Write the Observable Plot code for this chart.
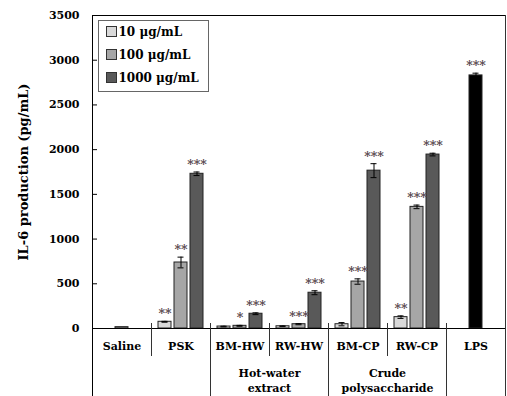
<!DOCTYPE html>
<html><head><meta charset="utf-8">
<script src="https://cdn.jsdelivr.net/npm/d3@7"></script>
<script src="https://cdn.jsdelivr.net/npm/@observablehq/plot@0.6"></script>
<style>
body{margin:0;background:#fff;}
#wrap{position:relative;width:507px;height:396px;overflow:hidden;}
.legend{position:absolute;left:98px;top:20px;width:111px;height:72px;border:1.5px solid #666;box-sizing:border-box;font:bold 12px "DejaVu Serif";background:#fff;padding-left:6.5px;}
.legend .row{height:23px;line-height:23px;white-space:nowrap;}
.legend .sw{display:inline-block;width:9px;height:9px;border:1px solid #333;vertical-align:middle;margin-right:2px;position:relative;top:-1px;}
</style></head><body><div id="wrap"></div>
<script>
const groups = ["Saline","PSK","BM-HW","RW-HW","BM-CP","RW-CP","LPS"];
const doses = ["10 μg/mL","100 μg/mL","1000 μg/mL"];
const dose10   = [null, 75, 22, 25, 48, 127, null];
const err10    = [null, 5, 4, 4, 18, 14, null];
const stars10  = ["", "**", "", "", "", "**", ""];
const dose100  = [15, 738, 30, 48, 525, 1360, null];
const err100   = [null, 60, 5, 6, 30, 20, null];
const stars100 = ["", "**", "*", "***", "***", "***", ""];
const dose1000 = [null, 1730, 165, 400, 1765, 1945, null];
const err1000  = [null, 20, 10, 22, 78, 15, null];
const stars1000= ["", "***", "***", "***", "***", "***", ""];
const lpsValue = 2830, lpsErr = 25, lpsStars = "***";
const yTicks = [0,500,1000,1500,2000,2500,3000,3500];
const subGroups = [{group:"BM-HW", label:"Hot-water\nextract"},{group:"BM-CP", label:"Crude\npolysaccharide"}];
const yLabel = "IL-6 production (pg/mL)";

const rows = [];
const series = [[dose10, err10, stars10], [dose100, err100, stars100], [dose1000, err1000, stars1000]];
groups.forEach((g, i) => {
  series.forEach(([v, e, s], j) => {
    if (v[i] != null) rows.push({group: g, slot: doses[j], key: doses[j], value: v[i], err: e[i], stars: s[i]});
  });
});
rows.push({group: "LPS", slot: doses[1], key: "LPS", value: lpsValue, err: lpsErr, stars: lpsStars});
const errRows = rows.filter(d => d.err != null);
const starRows = rows.filter(d => d.stars);

const colors = ["#d9d9d9","#a6a6a6","#595959","#000000"];
const shortSeps = ["PSK","RW-HW","RW-CP"];
const longSeps = ["BM-HW","BM-CP","LPS"];
const lineColor = "#333";

const chart = Plot.plot({
  width: 507, height: 396,
  marginLeft: 91, marginRight: 2, marginTop: 15, marginBottom: 68,
  fx: {domain: groups, padding: 0, axis: null},
  x: {domain: doses, paddingInner: 0.19, paddingOuter: 0.365, axis: null},
  y: {domain: [0, 3500], axis: null},
  color: {domain: [...doses, "LPS"], range: colors},
  style: {fontFamily: "DejaVu Serif", fontSize: "11px", fontWeight: "bold", background: "#fff", overflow: "visible"},
  marks: [
    Plot.barY(rows, {fx: "group", x: "slot", y: "value", fill: "key", stroke: "#222", strokeWidth: 1}),
    Plot.ruleX(errRows, {fx: "group", x: "slot", y1: d => d.value - d.err, y2: d => d.value + d.err, stroke: "#000", strokeWidth: 1}),
    Plot.tickY(errRows, {fx: "group", x: "slot", y: d => d.value + d.err, stroke: "#000", insetLeft: 3.5, insetRight: 3.5}),
    Plot.tickY(errRows, {fx: "group", x: "slot", y: d => d.value - d.err, stroke: "#000", insetLeft: 3.5, insetRight: 3.5}),
    Plot.text(starRows, {fx: "group", x: "slot", y: d => d.value + d.err, text: "stars", lineAnchor: "bottom", dy: -3, fill: "#5a4a50", fontSize: 12.5, fontWeight: "bold"}),
    Plot.ruleY([0], {stroke: "#000"}),
    Plot.frame({anchor: "top", stroke: "#000"}),
    Plot.frame({anchor: "left", fx: () => "Saline", stroke: "#000", insetBottom: -68}),
    Plot.frame({anchor: "right", fx: () => "LPS", stroke: lineColor, insetBottom: -68}),
    ...shortSeps.map(g => Plot.frame({anchor: "left", fx: () => g, stroke: lineColor, insetTop: 308, insetBottom: -27})),
    ...longSeps.map(g => Plot.frame({anchor: "left", fx: () => g, stroke: lineColor, insetTop: 308, insetBottom: -68})),
    Plot.axisY({ticks: yTicks, tickSize: 5, dx: 5, tickFormat: () => "", stroke: "#000", label: null}),
    Plot.axisY({ticks: yTicks, tickSize: 0, tickPadding: 13, tickFormat: d3.format("d"), fontSize: 11, fontWeight: "bold", label: null}),
    Plot.text([yLabel], {fx: () => "Saline", text: d => d, frameAnchor: "left", dx: -69, rotate: -90, textAnchor: "middle", lineAnchor: "middle", fontSize: 13, fontWeight: "bold"}),
    Plot.axisFx({anchor: "bottom", tickSize: 0, tickPadding: 14, fontSize: 11, fontWeight: "bold", label: null}),
    Plot.text(subGroups, {fx: "group", text: "label", frameAnchor: "bottom-right", textAnchor: "middle", lineAnchor: "top", dy: 38, lineHeight: 1.38, fontSize: 11, fontWeight: "bold"})
  ]
});
const wrap = document.getElementById("wrap");
wrap.appendChild(chart);
const legend = document.createElement("div");
legend.className = "legend";
doses.forEach((d, i) => {
  const r = document.createElement("div");
  r.className = "row";
  const sw = document.createElement("span");
  sw.className = "sw";
  sw.style.background = colors[i];
  r.appendChild(sw);
  r.appendChild(document.createTextNode(d));
  legend.appendChild(r);
});
wrap.appendChild(legend);
</script></body></html>
